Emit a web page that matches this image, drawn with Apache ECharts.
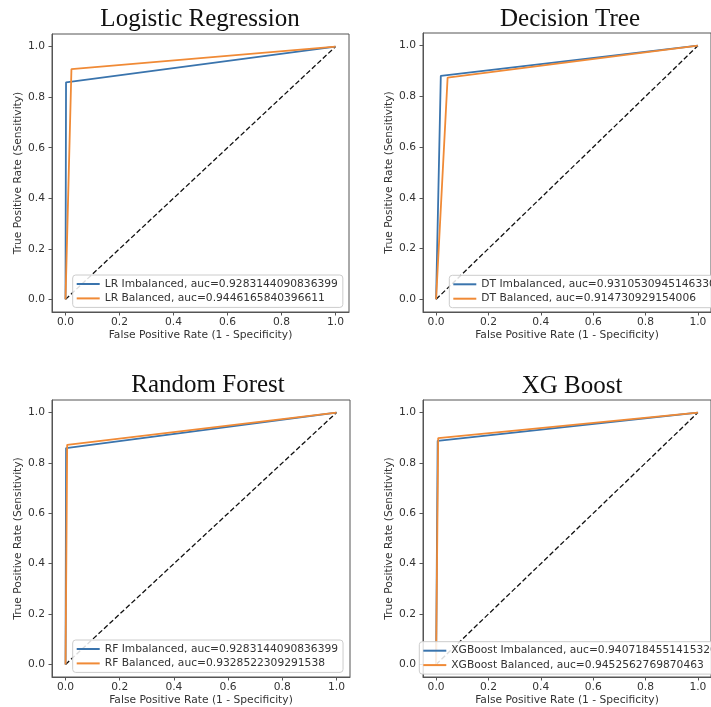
<!DOCTYPE html>
<html>
<head>
<meta charset="utf-8">
<script src="https://cdn.jsdelivr.net/npm/echarts@6/dist/echarts.min.js"></script>
<style>
  html, body { margin: 0; padding: 0; background: #fff; }
  #main { width: 711px; height: 707px; }
</style>
</head>
<body>
<div id="main"></div>
<script>
// ROC points: [fpr, tpr]
const titles = ['Logistic Regression', 'Decision Tree', 'Random Forest', 'XG Boost'];
const ticks = [0, 0.2, 0.4, 0.6, 0.8, 1.0];
const chance = [[0, 0], [1, 1]];

const lrImbalanced = [[0, 0], [0.002, 0.859], [1, 1]];
const lrBalanced   = [[0, 0], [0.022, 0.911], [1, 1]];
const dtImbalanced = [[0, 0], [0.018, 0.881], [1, 1]];
const dtBalanced   = [[0, 0], [0.044, 0.874], [1, 1]];
const rfImbalanced = [[0, 0], [0.002, 0.859], [1, 1]];
const rfBalanced   = [[0, 0], [0.006, 0.872], [1, 1]];
const xgImbalanced = [[0, 0], [0.006, 0.888], [1, 1]];
const xgBalanced   = [[0, 0], [0.008, 0.899], [1, 1]];

const names = [
    ['LR Imbalanced, auc=0.9283144090836399', 'LR Balanced, auc=0.9446165840396611'],
    ['DT Imbalanced, auc=0.9310530945146330', 'DT Balanced, auc=0.914730929154006'],
    ['RF Imbalanced, auc=0.9283144090836399', 'RF Balanced, auc=0.9328522309291538'],
    ['XGBoost Imbalanced, auc=0.9407184551415320', 'XGBoost Balanced, auc=0.9452562769870463']
];
const curves = [
    [lrImbalanced, lrBalanced],
    [dtImbalanced, dtBalanced],
    [rfImbalanced, rfBalanced],
    [xgImbalanced, xgBalanced]
];

const BLUE = '#3a74ad', ORANGE = '#f08a36', FRAME = '#555';
const tickFont = 'DejaVu Sans';

const grids = [
    {left: 52, top: 34, width: 297, height: 278},
    {left: 423, top: 33, width: 297, height: 279},
    {left: 52, top: 400, width: 298, height: 277},
    {left: 423, top: 400, width: 297, height: 277}
];
const titlePos = [[200, 19], [570, 19], [208, 385], [572, 386]];
const legendPos = [[72.7, 275], [449.3, 275.3], [72.7, 640], [419.3, 641.7]];

const option = {
    animation: false,
    grid: grids.map(g => Object.assign({show: true, borderColor: FRAME, borderWidth: 1}, g)),
    xAxis: grids.map((g, i) => ({
        type: 'value', gridIndex: i, min: -0.05, max: 1.05,
        name: 'False Positive Rate (1 - Specificity)',
        nameLocation: 'middle', nameGap: 18,
        nameTextStyle: {fontFamily: tickFont, fontSize: 10.7, color: '#333'},
        axisLine: {show: true, onZero: false, lineStyle: {color: FRAME}},
        axisTick: {show: true, length: 3.5, customValues: ticks, lineStyle: {color: FRAME}},
        axisLabel: {customValues: ticks, margin: 5, fontFamily: tickFont, fontSize: 10.7, color: '#333',
            formatter: v => v.toFixed(1)},
        splitLine: {show: false}
    })),
    yAxis: grids.map((g, i) => ({
        type: 'value', gridIndex: i, min: -0.05, max: 1.05,
        name: 'True Positive Rate (Sensitivity)',
        nameLocation: 'middle', nameGap: 26, nameRotate: 90,
        nameTextStyle: {fontFamily: tickFont, fontSize: 10.7, color: '#333'},
        axisLine: {show: true, onZero: false, lineStyle: {color: FRAME}},
        axisTick: {show: true, length: 3.5, customValues: ticks, lineStyle: {color: FRAME}},
        axisLabel: {customValues: ticks, margin: 7, fontFamily: tickFont, fontSize: 10.7, color: '#333',
            formatter: v => v.toFixed(1)},
        splitLine: {show: false}
    })),
    legend: names.map((pair, i) => ({
        data: pair,
        orient: 'vertical',
        left: legendPos[i][0], top: legendPos[i][1],
        icon: 'rect', itemWidth: 23, itemHeight: 2, itemGap: 2.4,
        padding: [3, 5, 3, 4],
        borderColor: '#ccc', borderWidth: 1, borderRadius: 3,
        backgroundColor: 'rgba(255,255,255,0.85)',
        textStyle: {fontFamily: tickFont, fontSize: 10.7, color: '#333', lineHeight: 12},
        selectedMode: false
    })),
    graphic: titles.map((t, i) => ({
        type: 'text', x: titlePos[i][0], y: titlePos[i][1],
        style: {text: t, fill: '#111', font: '25px "Liberation Serif", "Times New Roman", serif',
            textAlign: 'center', textVerticalAlign: 'middle'}
    })),
    series: []
};

curves.forEach((pair, i) => {
    option.series.push({
        type: 'line', xAxisIndex: i, yAxisIndex: i, data: chance,
        showSymbol: false, silent: true,
        lineStyle: {color: '#111', width: 1.3, type: [5, 2.5]}
    });
    [BLUE, ORANGE].forEach((c, k) => {
        option.series.push({
            name: names[i][k], type: 'line', xAxisIndex: i, yAxisIndex: i,
            data: pair[k], showSymbol: false, color: c,
            lineStyle: {color: c, width: 1.8}
        });
    });
});

const myChart = echarts.init(document.getElementById('main'));
myChart.setOption(option);
</script>
</body>
</html>
